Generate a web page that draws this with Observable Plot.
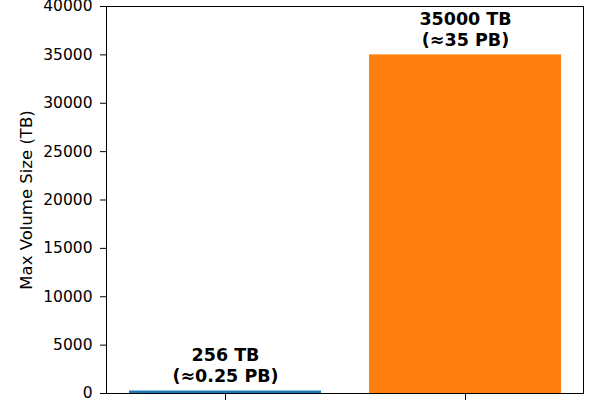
<!DOCTYPE html>
<html>
<head>
<meta charset="utf-8">
<script src="https://cdn.jsdelivr.net/npm/d3@7"></script>
<script src="https://cdn.jsdelivr.net/npm/@observablehq/plot@0.6"></script>
<style>
  html, body { margin: 0; padding: 0; background: white; overflow: hidden; }
  #chart { width: 600px; height: 400px; }
</style>
</head>
<body>
<div id="chart"></div>
<script>
const categories = ["Current limit", "New limit"];
const volumesTB = [256, 35000];
const barLabels = ["256 TB\n(≈0.25 PB)", "35000 TB\n(≈35 PB)"];
const yTicks = [0, 5000, 10000, 15000, 20000, 25000, 30000, 35000, 40000];
const yTitle = "Max Volume Size (TB)";
const barColors = ["#1f77b4", "#ff7f0e"];

const data = categories.map((c, i) => ({category: c, value: volumesTB[i], label: barLabels[i]}));

const plot = Plot.plot({
  width: 600,
  height: 400,
  marginLeft: 106,
  marginRight: 17,
  marginTop: 6,
  marginBottom: 7,
  style: {fontFamily: "DejaVu Sans", background: "white", color: "black", overflow: "hidden"},
  x: {domain: categories, paddingInner: 0.2, paddingOuter: 0.0897, axis: null},
  y: {domain: [0, 40000], axis: null},
  color: {domain: categories, range: barColors},
  marks: [
    Plot.barY(data, {x: "category", y: "value", fill: "category"}),
    Plot.text(data, {x: "category", y: "value", text: "label", lineAnchor: "bottom", dy: -9,
      fontSize: 17.5, fontWeight: "bold", fill: "black", lineHeight: 1.2}),
    Plot.axisY({ticks: yTicks, tickFormat: d3.format("d"), tickSize: 6, tickPadding: 8,
      fontSize: 15.5, label: null}),
    Plot.axisX({tickSize: 7, tickFormat: () => "", label: null}),
    Plot.text([yTitle], {frameAnchor: "left", textAnchor: "middle", lineAnchor: "middle",
      rotate: -90, dx: -80, fontSize: 16.5, fill: "black"}),
    Plot.frame({stroke: "black", strokeWidth: 1})
  ]
});
document.getElementById("chart").appendChild(plot);
</script>
</body>
</html>
